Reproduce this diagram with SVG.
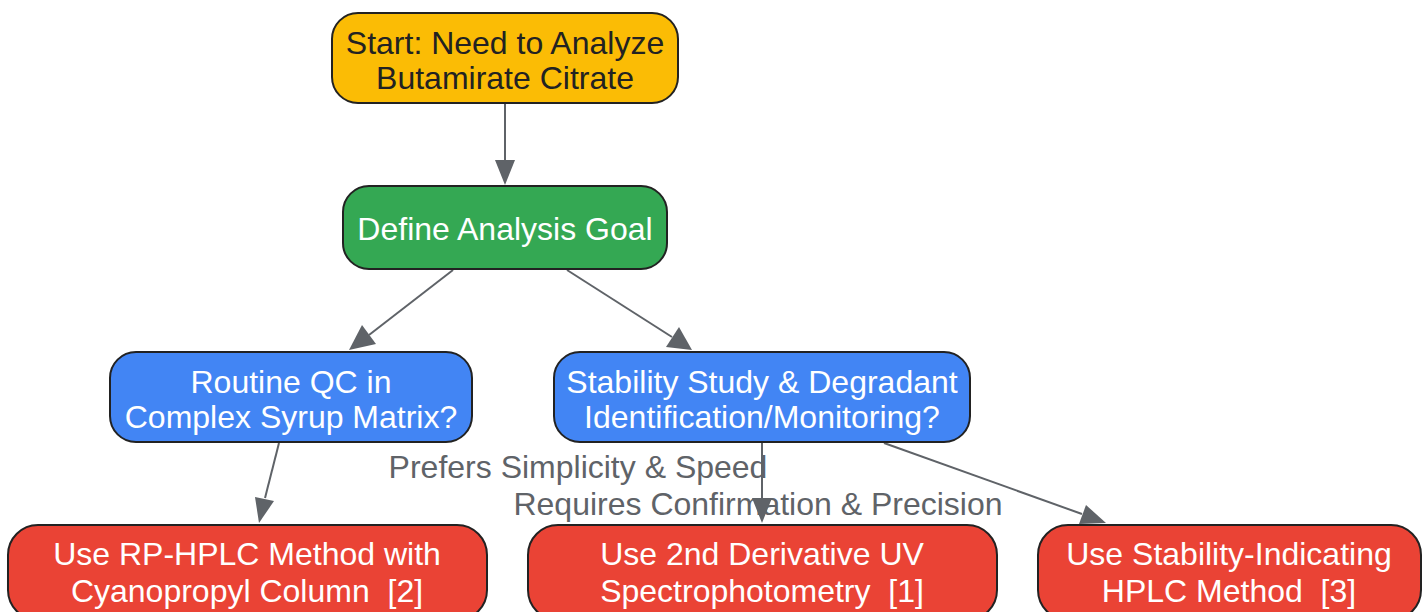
<svg xmlns="http://www.w3.org/2000/svg" width="1428" height="612" viewBox="0 0 1428 612">
<defs>
<style>
.n{stroke:#222;stroke-width:2}
.t{font-family:"Liberation Sans",Arial,sans-serif;font-size:32px;text-anchor:middle;white-space:pre}
.w{fill:#fff}
.e{stroke:#5f6368;stroke-width:2;fill:none}
.l{font-family:"Liberation Sans",Arial,sans-serif;font-size:32px;fill:#5f6368;text-anchor:middle}
</style>
</defs>
<rect width="1428" height="612" fill="#fff"/>
<g id="connectors">
<line class="e" x1="505" y1="103" x2="505" y2="160"/>
<path d="M495,160 L515,160 L505,185 z" fill="#5f6368"/>
<line class="e" x1="453" y1="270" x2="369" y2="335"/>
<path d="M362,325 L376,344 L349,350 z" fill="#5f6368"/>
<line class="e" x1="567" y1="270" x2="672" y2="337"/>
<path d="M666,347 L679,327 L692,350 z" fill="#5f6368"/>
<line class="e" x1="279" y1="443" x2="265" y2="498"/>
<path d="M255,497 L274,501 L259,523 z" fill="#5f6368"/>
<line class="e" x1="762" y1="443" x2="762" y2="498"/>
<path d="M752,498 L772,498 L762,523 z" fill="#5f6368"/>
<line class="e" x1="884" y1="443" x2="1082" y2="514"/>
<path d="M1079,524 L1086,505 L1106,523 z" fill="#5f6368"/>
<text class="l" x="578" y="478">Prefers Simplicity &amp; Speed</text>
<text class="l" x="758" y="515">Requires Confirmation &amp; Precision</text>
</g>
<g id="start">
<rect class="n" x="332" y="13" width="346" height="90" rx="26" fill="#FBBC05"/>
<text class="t" x="505" y="54" fill="#222">Start: Need to Analyze</text>
<text class="t" x="505" y="89" fill="#222">Butamirate Citrate</text>
</g>
<g id="goal">
<rect class="n" x="343" y="186" width="324" height="83" rx="26" fill="#34A853"/>
<text class="t w" x="505" y="240">Define Analysis Goal</text>
</g>
<g id="routine">
<rect class="n" x="110" y="352" width="362" height="90" rx="26" fill="#4285F4"/>
<text class="t w" x="291" y="393">Routine QC in</text>
<text class="t w" x="291" y="428">Complex Syrup Matrix?</text>
</g>
<g id="stability">
<rect class="n" x="554" y="352" width="416" height="90" rx="26" fill="#4285F4"/>
<text class="t w" x="762" y="393">Stability Study &amp; Degradant</text>
<text class="t w" x="762" y="428">Identification/Monitoring?</text>
</g>
<g id="rphplc">
<rect class="n" x="8" y="525" width="479" height="95" rx="30" fill="#EA4335"/>
<text class="t w" x="247" y="565">Use RP-HPLC Method with</text>
<text class="t w" x="247" y="602">Cyanopropyl Column  [2]</text>
</g>
<g id="uv">
<rect class="n" x="528" y="525" width="469" height="95" rx="30" fill="#EA4335"/>
<text class="t w" x="762" y="565">Use 2nd Derivative UV</text>
<text class="t w" x="762" y="602">Spectrophotometry  [1]</text>
</g>
<g id="sihplc">
<rect class="n" x="1038" y="525" width="383" height="95" rx="30" fill="#EA4335"/>
<text class="t w" x="1229" y="565">Use Stability-Indicating</text>
<text class="t w" x="1229" y="602">HPLC Method  [3]</text>
</g>
</svg>
